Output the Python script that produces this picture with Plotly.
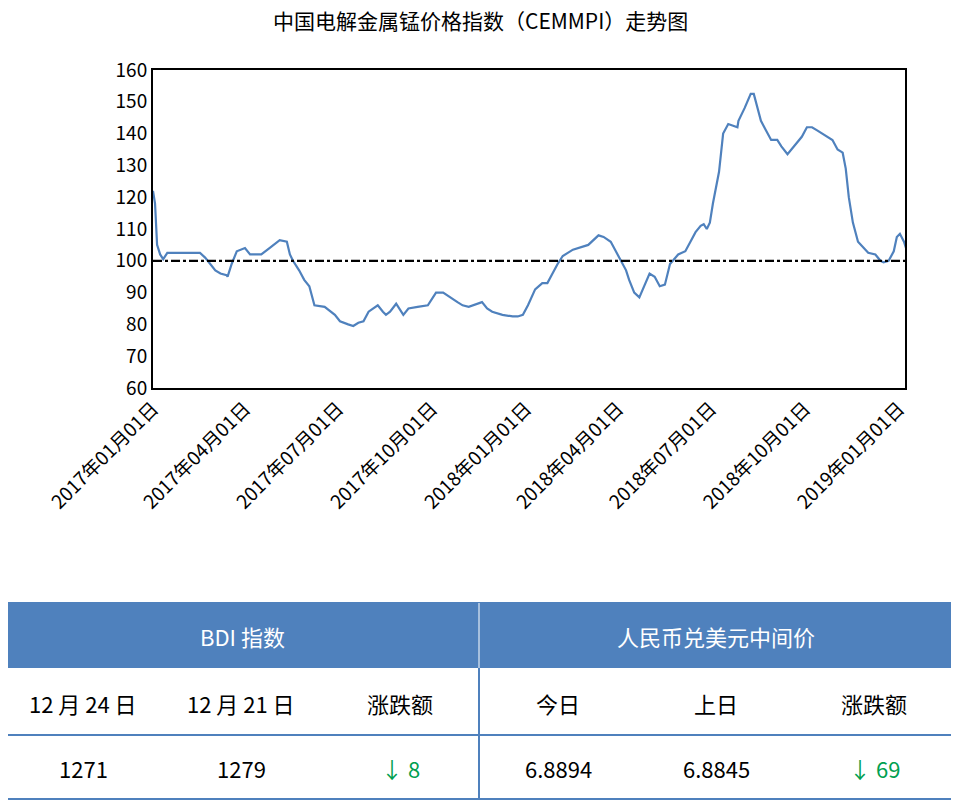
import plotly.graph_objects as go
import pandas as pd

days = [0,2,4,7,10,14,21,31,46,51,56,61,66,72,73,77,82,90,95,106,114,124,131,134,137,143,148,153,158,168,
        178,183,191,196,201,206,211,220,225,228,232,238,245,250,259,269,277,284,298,303,309,322,327,332,342,352,
        357,362,367,370,374,381,386,391,396,401,411,426,433,436,441,448,453,458,463,466,471,476,481,486,491,496,
        501,506,514,521,526,531,536,539,542,545,548,554,558,563,572,573,579,585,588,592,595,600,605,611,615,621,
        625,635,640,645,650,655,660,665,670,675,678,681,685,690,700,705,707,712,715,720,725,728,731,735,739]
values = [122,118,105,102,100.5,102.5,102.5,102.5,102.5,101,99,97,96,95.5,95,99,103,104,102,102,
          104,106.5,106,102,100,97,94,92,86,85.5,
          83,81,80,79.5,80.5,81,84,86,84,83,84,86.5,83,85,85.5,86,90,90,87,86,85.5,87,85,84,83,82.5,
          82.5,83,86,88,91,93,93,96,99,101.5,103.5,105,107,108,107.5,106,103,100,97,94,90,88.5,92,96,95,92,
          92.5,99,102,103,106,109,111,111.5,110,112,118,128,140,143,142,144,148,152.5,152.5,148,144,141,138,138,136,133.5,
          135,139,142,142,141,140,139,138,135,134,129,120,112,106,102.5,102,102,100,99.5,100,103,107.5,108.5,106,102,102,106]
dates = pd.Timestamp("2017-01-01") + pd.to_timedelta(days, unit="D")

tick_vals = ["2017-01-01","2017-04-01","2017-07-01","2017-10-01","2018-01-01","2018-04-01","2018-07-01","2018-10-01","2019-01-01"]
tick_text = ["2017年01月01日","2017年04月01日","2017年07月01日","2017年10月01日","2018年01月01日","2018年04月01日","2018年07月01日","2018年10月01日","2019年01月01日"]
baseline = 100

headers = ["BDI 指数", "人民币兑美元中间价"]
sub_headers = ["12 月 24 日", "12 月 21 日", "涨跌额", "今日", "上日", "涨跌额"]
row_values = ["1271", "1279", "↓ 8", "6.8894", "6.8845", "↓ 69"]

FONT = "Noto Sans CJK SC"
BLUE = "#4f81bd"
OFF = 8
W, H = 959 - OFF, 804 - OFF
def px(x): return (x - OFF) / W
def py(y): return 1 - (y - OFF) / H
L, R, T, B = 153, 905, 70, 388

fig = go.Figure()
fig.add_trace(go.Scatter(x=dates, y=values, mode="lines", line=dict(color=BLUE, width=2.2), showlegend=False))
fig.add_trace(go.Scatter(x=[dates[0], dates[-1]], y=[baseline, baseline], mode="lines",
                         line=dict(color="black", width=2.2, dash="dashdot"), showlegend=False))

shapes = []
ann = []
shapes.append(dict(type="rect", xref="paper", yref="paper", x0=px(4), x1=px(955), y0=py(668), y1=py(603),
                   fillcolor=BLUE, line=dict(width=0), layer="above"))
shapes.append(dict(type="rect", xref="paper", yref="paper", x0=px(4), x1=px(955), y0=py(799), y1=py(603),
                   line=dict(color=BLUE, width=2), layer="above"))
shapes.append(dict(type="line", xref="paper", yref="paper", x0=px(4), x1=px(955), y0=py(735), y1=py(735),
                   line=dict(color=BLUE, width=2)))
shapes.append(dict(type="line", xref="paper", yref="paper", x0=px(479), x1=px(479), y0=py(799), y1=py(668),
                   line=dict(color=BLUE, width=2)))
shapes.append(dict(type="line", xref="paper", yref="paper", x0=px(479), x1=px(479), y0=py(668), y1=py(603),
                   line=dict(color="white", width=1)))
for i, h in enumerate(headers):
    ann.append(dict(x=px([242, 716][i]), y=py(636), xref="paper", yref="paper", text=h, showarrow=False,
                    xanchor="center", yanchor="middle", font=dict(size=22, color="white", family=FONT)))
cols = [83, 241, 400, 558, 716, 874]
for i, c in enumerate(cols):
    ann.append(dict(x=px(c), y=py(703), xref="paper", yref="paper", text=sub_headers[i], showarrow=False,
                    xanchor="center", yanchor="middle", font=dict(size=22, color="black", family=FONT)))
    green = row_values[i].startswith("↓")
    ann.append(dict(x=px(c), y=py(768), xref="paper", yref="paper", text=row_values[i], showarrow=False,
                    xanchor="center", yanchor="middle",
                    font=dict(size=22, color="#00a050" if green else "black", family=FONT)))
ann.append(dict(x=px(480), y=py(20), xref="paper", yref="paper", text="中国电解金属锰价格指数（CEMMPI）走势图",
                showarrow=False, xanchor="center", yanchor="middle", font=dict(size=21, color="black", family=FONT)))

fig.update_layout(
    width=W, height=H, plot_bgcolor="white", paper_bgcolor="white",
    margin=dict(l=0, r=0, t=0, b=0, autoexpand=False),
    font=dict(family=FONT, color="black"),
    shapes=shapes, annotations=ann,
    xaxis=dict(domain=[px(L), px(R)], range=["2017-01-01", "2019-01-07"], tickvals=tick_vals, ticktext=tick_text,
               tickangle=-45, automargin=False,
               showgrid=False, showline=True, mirror=True, linecolor="black", linewidth=2,
               tickfont=dict(size=19, family=FONT), ticks=""),
    yaxis=dict(domain=[py(B), py(T)], range=[60, 160], dtick=10, showgrid=False, showline=True, mirror=True,
               linecolor="black", linewidth=2, automargin=False, tickfont=dict(size=19, family=FONT), ticks=""),
)
fig.write_html("out.html")
